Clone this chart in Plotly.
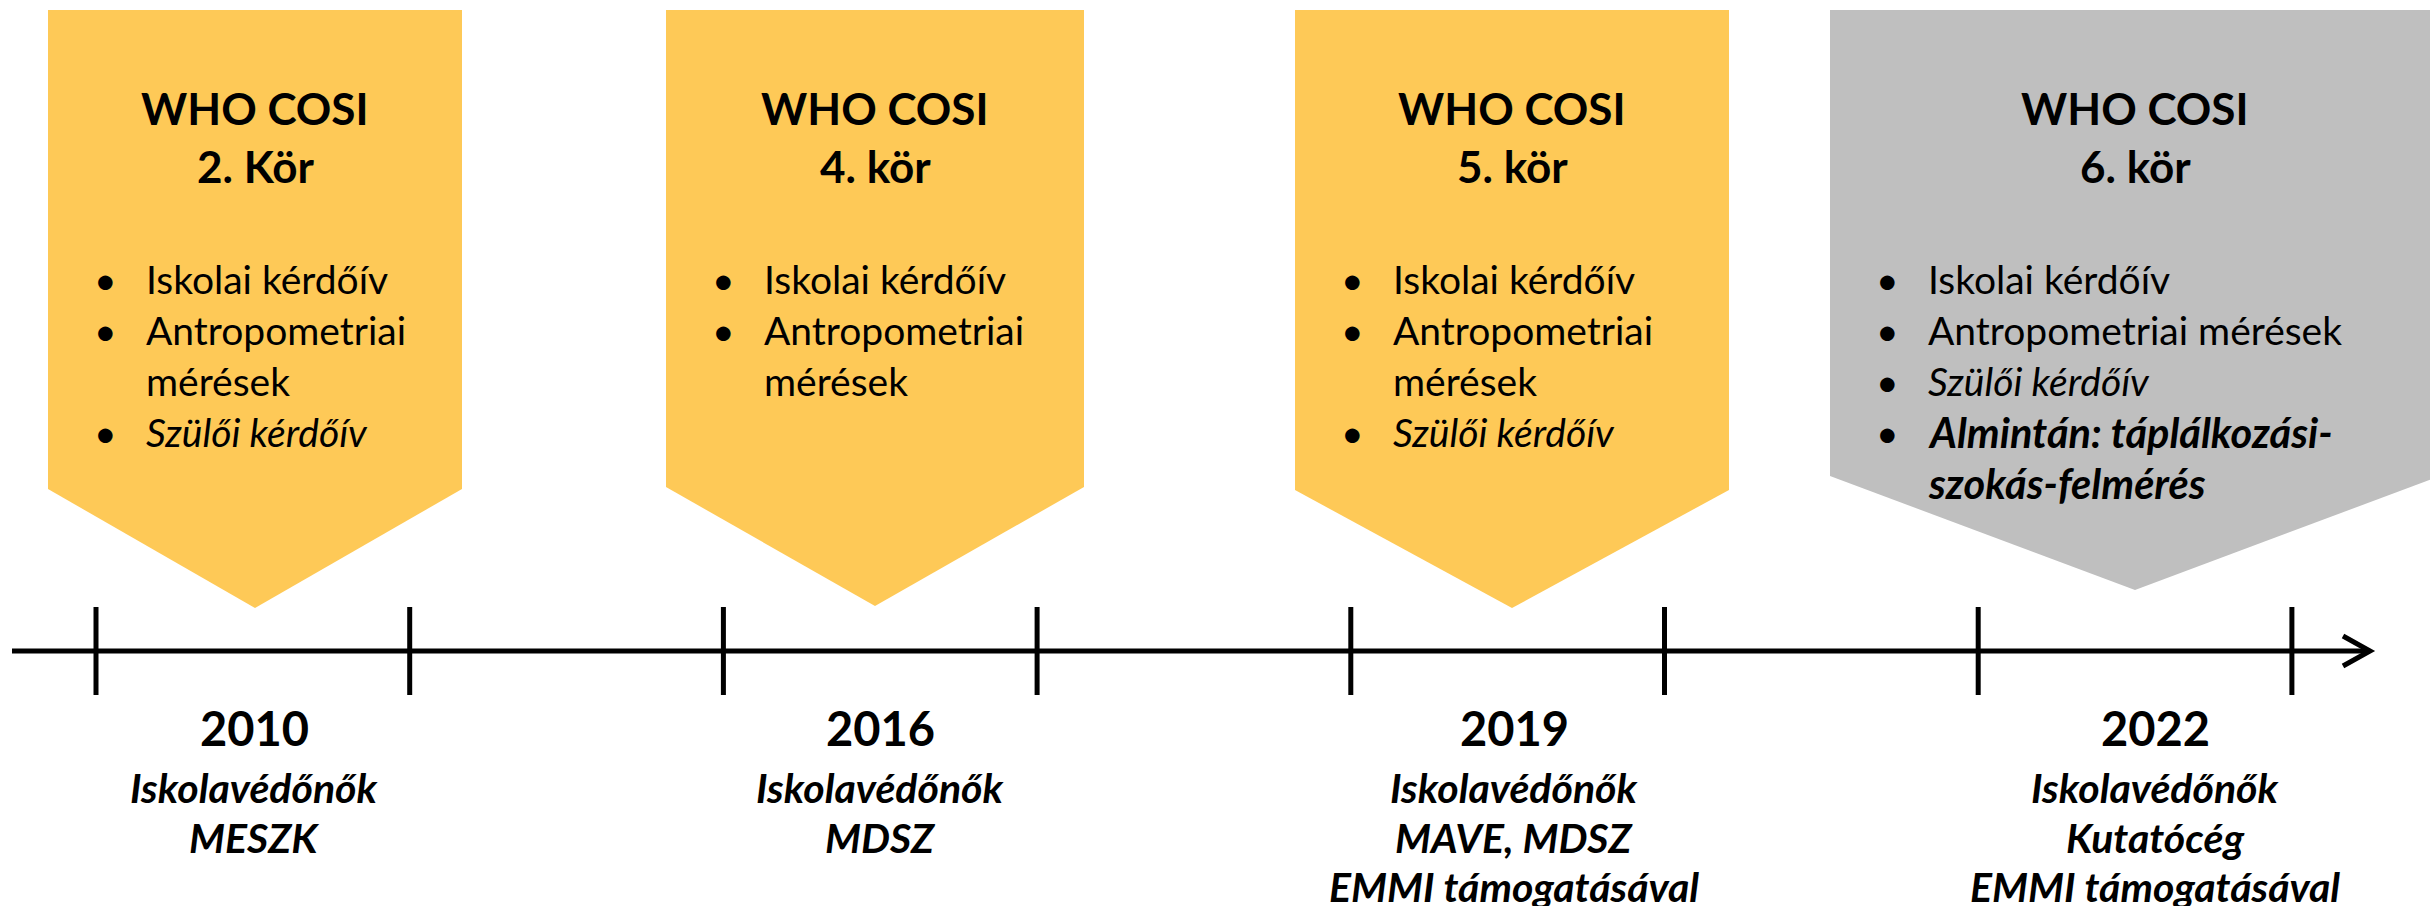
import plotly.graph_objects as go

# ---------------- data ----------------
years = ["2010", "2016", "2019", "2022"]
title_line = "WHO COSI"
rounds = ["2. Kör", "4. kör", "5. kör", "6. kör"]
# each item = list of wrapped lines
items = [
    [["Iskolai kérdőív"], ["Antropometriai", "mérések"], ["Szülői kérdőív"]],
    [["Iskolai kérdőív"], ["Antropometriai", "mérések"]],
    [["Iskolai kérdőív"], ["Antropometriai", "mérések"], ["Szülői kérdőív"]],
    [["Iskolai kérdőív"], ["Antropometriai mérések"], ["Szülői kérdőív"],
     ["Almintán: táplálkozási-", "szokás-felmérés"]],
]
item_styles = [
    ["normal", "normal", "italic"],
    ["normal", "normal"],
    ["normal", "normal", "italic"],
    ["normal", "normal", "italic", "bolditalic"],
]
orgs = [
    ["Iskolavédőnők", "MESZK"],
    ["Iskolavédőnők", "MDSZ"],
    ["Iskolavédőnők", "MAVE, MDSZ", "EMMI támogatásával"],
    ["Iskolavédőnők", "Kutatócég", "EMMI támogatásával"],
]

# ---------------- layout constants ----------------
W, H = 2430, 906
FONT = "Lato"
YELLOW = "#FEC957"
GRAY = "#BFBFBF"
box_fill = [YELLOW, YELLOW, YELLOW, GRAY]
box_left = [48, 666, 1295, 1830]
box_right = [462, 1084, 1729, 2440]
box_tip_x = [255, 875, 1512, 2135]
box_top = 10
box_shoulder = [489, 487, 490, 476]
box_tip_y = [608, 606, 608, 590]
label_x = [254, 880, 1514, 2155]

axis_y = 651
axis_x0, axis_x1 = 12, 2370
tick_x0, tick_step, n_ticks = 96, 313.7, 8
tick_half = 44
LW = 5

title_y = [108, 166]
bullet_y0, line_h = 279, 51
bullet_dx, text_dx = 57, 96
year_y = 728
org_ys = [787, 837, 886]

SZ_TITLE = 44
SZ_BODY = 39
SZ_BODY_BI = 41.5
SZ_YEAR = 47
SZ_ORG = 41

fig = go.Figure()
shapes = []
ann = []

def fmt(t, style):
    if style == "italic":
        return f"<i>{t}</i>"
    if style == "bolditalic":
        return f"<b><i>{t}</i></b>"
    return t

for i in range(len(years)):
    l, r, cx = box_left[i], box_right[i], box_tip_x[i]
    path = (f"M {l} {box_top} L {r} {box_top} L {r} {box_shoulder[i]} "
            f"L {cx} {box_tip_y[i]} L {l} {box_shoulder[i]} Z")
    shapes.append(dict(type="path", xref="x", yref="y", path=path,
                       fillcolor=box_fill[i], line=dict(width=0), layer="below"))
    # title
    for k, t in enumerate([title_line, rounds[i]]):
        ann.append(dict(x=cx, y=title_y[k], text=f"<b>{t}</b>", xanchor="center",
                        yanchor="middle", font=dict(family=FONT, size=SZ_TITLE, color="black")))
    # bullets
    row = 0
    for item, st in zip(items[i], item_styles[i]):
        sz = SZ_BODY_BI if st == "bolditalic" else SZ_BODY
        ann.append(dict(x=l + bullet_dx, y=bullet_y0 + row * line_h, text="•",
                        xanchor="center", yanchor="middle",
                        font=dict(family=FONT, size=SZ_BODY, color="black")))
        for ln in item:
            ann.append(dict(x=l + text_dx, y=bullet_y0 + row * line_h, text=fmt(ln, st),
                            xanchor="left", yanchor="middle",
                            font=dict(family=FONT, size=sz, color="black")))
            row += 1
    # year + organisations
    ann.append(dict(x=label_x[i], y=year_y, text=f"<b>{years[i]}</b>", xanchor="center",
                    yanchor="middle", font=dict(family=FONT, size=SZ_YEAR, color="black")))
    for k, o in enumerate(orgs[i]):
        ann.append(dict(x=label_x[i], y=org_ys[k], text=f"<b><i>{o}</i></b>",
                        xanchor="center", yanchor="middle",
                        font=dict(family=FONT, size=SZ_ORG, color="black")))

# timeline axis with ticks and open arrow head
shapes.append(dict(type="line", xref="x", yref="y", x0=axis_x0, x1=axis_x1,
                   y0=axis_y, y1=axis_y, line=dict(color="black", width=LW)))
for k in range(n_ticks):
    tx = tick_x0 + k * tick_step
    shapes.append(dict(type="line", xref="x", yref="y", x0=tx, x1=tx,
                       y0=axis_y - tick_half, y1=axis_y + tick_half,
                       line=dict(color="black", width=LW)))
shapes.append(dict(type="path", xref="x", yref="y",
                   path=f"M {axis_x1 - 27} {axis_y - 15} L {axis_x1} {axis_y} L {axis_x1 - 27} {axis_y + 15}",
                   line=dict(color="black", width=LW)))

for a in ann:
    a.update(xref="x", yref="y", showarrow=False)

fig.update_layout(
    width=W, height=H, margin=dict(l=0, r=0, t=0, b=0),
    paper_bgcolor="white", plot_bgcolor="white",
    xaxis=dict(range=[0, W], visible=False, fixedrange=True),
    yaxis=dict(range=[H, 0], visible=False, fixedrange=True),
    shapes=shapes, annotations=ann, showlegend=False,
)
fig.write_html(
    "out.html",
    config={"displayModeBar": False},
    post_script="document.body.style.margin='0';document.body.style.overflow='hidden';",
)
